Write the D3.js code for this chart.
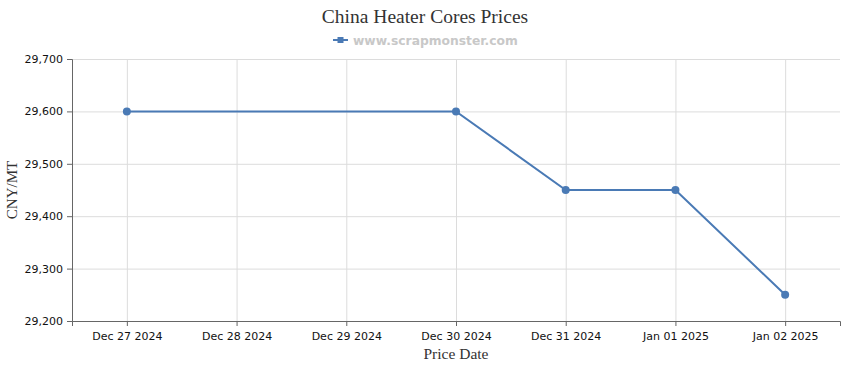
<!DOCTYPE html>
<head>
  <meta charset="utf-8" />
  <script src="https://d3js.org/d3.v7.min.js"></script>
  <style>
    body { margin: 0; background: #fff; }
    svg { display: block; }
    .tick text { font-family: "DejaVu Sans", sans-serif; font-size: 11px; fill: #111; }
    .grid line { stroke: #dcdcdc; }
    .grid path { display: none; }
  </style>
</head>

<body>
  <svg width="850" height="370"></svg>

  <script>
    var dates = ["Dec 27 2024", "Dec 28 2024", "Dec 29 2024", "Dec 30 2024", "Dec 31 2024", "Jan 01 2025", "Jan 02 2025"];
    // only the days that have a price
    var priceDates = ["Dec 27 2024", "Dec 30 2024", "Dec 31 2024", "Jan 01 2025", "Jan 02 2025"];
    var prices = [29600, 29600, 29450, 29450, 29250];
    var yTicks = [29200, 29300, 29400, 29500, 29600, 29700];

    var margin = { top: 59, right: 10, bottom: 49, left: 72 };
    var width = 850 - margin.left - margin.right;
    var height = 370 - margin.top - margin.bottom;
    var color = "#4a7ab5";

    var svg = d3.select("svg");
    var g = svg.append("g").attr("transform", "translate(" + margin.left + "," + margin.top + ")");

    var x = d3.scalePoint().domain(dates).range([0, width]).padding(0.5);
    var y = d3.scaleLinear().domain([29200, 29700]).range([height, 0]);

    // gridlines
    g.append("g").attr("class", "grid")
      .call(d3.axisLeft(y).tickValues(yTicks).tickSize(-width).tickFormat(""));
    g.append("g").attr("class", "grid")
      .attr("transform", "translate(0," + height + ")")
      .call(d3.axisBottom(x).tickSize(-height).tickFormat(""));

    var yAxis = g.append("g")
      .call(d3.axisLeft(y).tickValues(yTicks).tickSize(5).tickPadding(4).tickFormat(d3.format(",")));
    var xAxis = g.append("g")
      .attr("transform", "translate(0," + height + ")")
      .call(d3.axisBottom(x).tickSize(5).tickPadding(6));
    [yAxis, xAxis].forEach(function (a) {
      a.select(".domain").attr("stroke", "#666");
      a.selectAll(".tick line").attr("stroke", "#666");
    });

    var data = priceDates.map(function (d, i) { return { date: d, price: prices[i] }; });

    var line = d3.line()
      .x(function (d) { return x(d.date); })
      .y(function (d) { return y(d.price); });

    g.append("path")
      .datum(data)
      .attr("fill", "none")
      .attr("stroke", color)
      .attr("stroke-width", 2)
      .attr("d", line);

    g.selectAll("circle")
      .data(data)
      .enter()
      .append("circle")
      .attr("cx", function (d) { return x(d.date); })
      .attr("cy", function (d) { return y(d.price); })
      .attr("r", 4)
      .attr("fill", color);

    // title + legend
    svg.append("text")
      .attr("x", 425).attr("y", 23)
      .attr("text-anchor", "middle")
      .style("font-family", "'Liberation Serif', serif")
      .style("font-size", "19.5px")
      .style("fill", "#333")
      .text("China Heater Cores Prices");

    var legend = svg.append("g").attr("transform", "translate(333,40)");
    legend.append("line")
      .attr("x1", 0).attr("x2", 15).attr("y1", 0).attr("y2", 0)
      .attr("stroke", color).attr("stroke-width", 2);
    legend.append("rect")
      .attr("x", 4.5).attr("y", -3).attr("width", 6).attr("height", 6)
      .attr("fill", color);
    legend.append("text")
      .attr("x", 20).attr("y", 4.5)
      .style("font-family", "'DejaVu Sans', sans-serif")
      .style("font-size", "12.3px")
      .style("font-weight", "bold")
      .style("fill", "#c8c8c8")
      .text("www.scrapmonster.com");

    // axis titles
    svg.append("text")
      .attr("x", margin.left + width / 2).attr("y", 359)
      .attr("text-anchor", "middle")
      .style("font-family", "'Liberation Serif', serif")
      .style("font-size", "15.5px")
      .style("fill", "#333")
      .text("Price Date");

    svg.append("text")
      .attr("transform", "translate(17," + (margin.top + height / 2) + ") rotate(-90)")
      .attr("text-anchor", "middle")
      .style("font-family", "'Liberation Serif', serif")
      .style("font-size", "15px")
      .style("fill", "#333")
      .text("CNY/MT");
  </script>
</body>
